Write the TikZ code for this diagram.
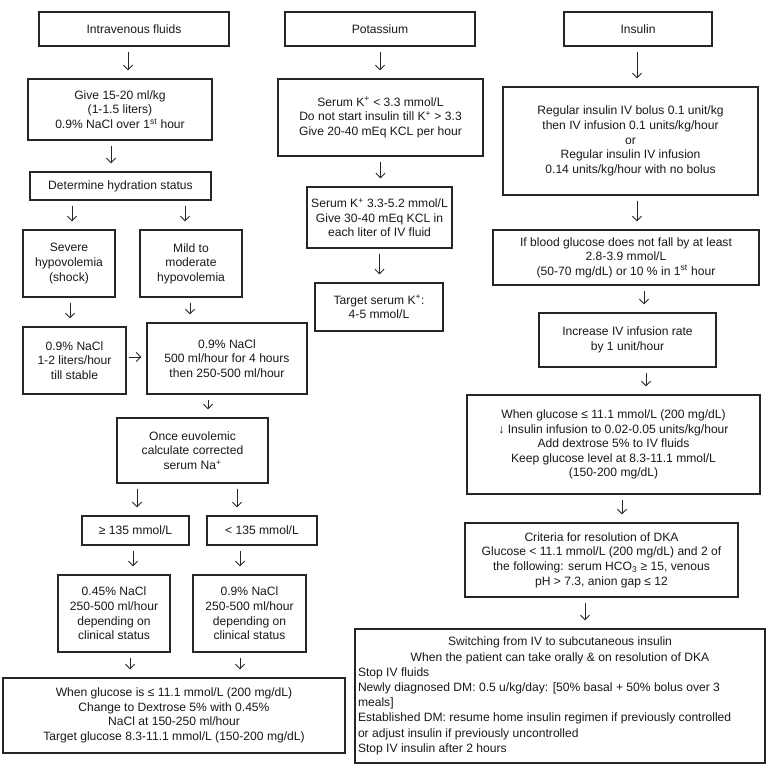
\documentclass[tikz,border=0pt]{standalone}
\usepackage{fontspec}
\setmainfont{Liberation Sans}
\usetikzlibrary{arrows.meta,calc}
\newcommand\fsz{\fontsize{12.1}{14.6}\selectfont}
\newcommand\flowbox[6]{\node[fbox,minimum width={(#4-#2)*1pt},minimum height={(#5-#3)*1pt}] (#1) at ({(#2+#4)/2},{(#3+#5)/2}) {#6};}
\tikzset{
  fbox/.style={draw=black!85, line width=1.4pt, align=center, inner sep=0pt, font=\fsz, text=black!90},
  arr/.style={-{Straight Barb[length=4.5pt,width=9pt]}, line width=0.9pt, draw=black!85, shorten <=5pt, shorten >=8pt},
  arrh/.style={-{Straight Barb[length=4.5pt,width=9pt]}, line width=0.9pt, draw=black!85, shorten <=2pt, shorten >=5pt}
}
\begin{document}
\begin{tikzpicture}[x=1pt,y=-1pt]
\useasboundingbox[fill=white] (0,0) rectangle (768,769);
% Column 1: intravenous fluids
\flowbox{iv}{39}{12}{229}{46}{Intravenous fluids}
\flowbox{give}{28}{79}{212}{140}{Give 15-20 ml/kg\\(1-1.5 liters)\\0.9\% NaCl over 1\textsuperscript{st} hour}
\flowbox{det}{30}{172}{211}{200}{Determine hydration status}
\flowbox{sev}{23}{230}{115}{297}{Severe\\hypovolemia\\(shock)}
\flowbox{mild}{140}{230}{242}{297}{Mild to\\moderate\\hypovolemia}
\flowbox{na1}{23}{327}{126}{394}{0.9\% NaCl\\1-2 liters/hour\\till stable}
\flowbox{na2}{147}{323}{307}{394}{0.9\% NaCl\\500 ml/hour for 4 hours\\then 250-500 ml/hour}
\flowbox{euv}{117}{418}{268}{483}{Once euvolemic\\calculate corrected\\serum Na\textsuperscript{+}}
\flowbox{ge}{82}{516}{189}{545}{≥ 135 mmol/L}
\flowbox{lt}{207}{516}{317}{545}{< 135 mmol/L}
\flowbox{nhalf}{58}{575}{170}{652}{0.45\% NaCl\\250-500 ml/hour\\depending on\\clinical status}
\flowbox{nfull}{193}{575}{306}{652}{0.9\% NaCl\\250-500 ml/hour\\depending on\\clinical status}
\flowbox{bot}{3}{678}{345}{753}{When glucose is ≤ 11.1 mmol/L (200 mg/dL)\\Change to Dextrose 5\% with 0.45\%\\NaCl at 150-250 ml/hour\\Target glucose 8.3-11.1 mmol/L (150-200 mg/dL)}
% Column 2: potassium
\flowbox{kzero}{285}{12}{475}{46}{Potassium}
\flowbox{kone}{278}{79}{483}{156}{Serum K\textsuperscript{+} < 3.3 mmol/L\\Do not start insulin till K\textsuperscript{+} > 3.3\\Give 20-40 mEq KCL per hour}
\flowbox{ktwo}{307}{187}{452}{248}{Serum K\textsuperscript{+} 3.3-5.2 mmol/L\\Give 30-40 mEq KCL in\\each liter of IV fluid}
\flowbox{kthree}{315}{283}{443}{331}{Target serum K\textsuperscript{+}:\\4-5 mmol/L}
% Column 3: insulin
\flowbox{ins}{564}{12}{712}{46}{Insulin}
\flowbox{reg}{503}{87}{758}{195}{Regular insulin IV bolus 0.1 unit/kg\\then IV infusion 0.1 units/kg/hour\\or\\Regular insulin IV infusion\\0.14 units/kg/hour with no bolus}
\flowbox{ifb}{493}{230}{759}{285}{If blood glucose does not fall by at least\\2.8-3.9 mmol/L\\(50-70 mg/dL) or 10 \% in 1\textsuperscript{st} hour}
\flowbox{inc}{539}{313}{716}{367}{Increase IV infusion rate\\by 1 unit/hour}
\flowbox{wg}{467}{395}{760}{494}{When glucose ≤ 11.1 mmol/L (200 mg/dL)\\↓ Insulin infusion to 0.02-0.05 units/kg/hour\\Add dextrose 5\% to IV fluids\\Keep glucose level at 8.3-11.1 mmol/L\\(150-200 mg/dL)}
\flowbox{crit}{465}{523}{738}{597}{Criteria for resolution of DKA\\Glucose < 11.1 mmol/L (200 mg/dL) and 2 of\\the following: serum HCO\textsubscript{3} ≥ 15, venous\\pH > 7.3, anion gap ≤ 12}
\flowbox{sw}{355}{629}{765}{763}{\parbox{404pt}{\fontsize{12.1}{15.2}\selectfont\centering Switching from IV to subcutaneous insulin\\When the patient can take orally \& on resolution of DKA\par\raggedright Stop IV fluids\\Newly diagnosed DM: 0.5 u/kg/day: [50\% basal + 50\% bolus over 3\\meals]\\Established DM: resume home insulin regimen if previously controlled\\or adjust insulin if previously uncontrolled\\Stop IV insulin after 2 hours\par}}
% Arrows column 1
\draw[arr] ([xshift=-6pt]iv.south) -- ([xshift=-6pt]iv.south |- give.north);
\draw[arr] ([xshift=-9pt]give.south) -- ([xshift=-9pt]give.south |- det.north);
\draw[arr] ([xshift=3pt]sev.north |- det.south) -- ([xshift=3pt]sev.north);
\draw[arr] ([xshift=-6pt]mild.north |- det.south) -- ([xshift=-6pt]mild.north);
\draw[arr] ([xshift=1pt]sev.south) -- ([xshift=1pt]sev.south |- na1.north);
\draw[arr] ([xshift=-1pt]mild.south) -- ([xshift=-1pt]mild.south |- na2.north);
\draw[arrh] ([yshift=3.5pt]na1.east) -- ([yshift=3.5pt]na1.east -| na2.west);
\draw[arr] ([xshift=15.5pt]euv.north |- na2.south) -- ([xshift=15.5pt]euv.north);
\draw[arr] ([xshift=1.5pt]ge.north |- euv.south) -- ([xshift=1.5pt]ge.north);
\draw[arr] ([xshift=-25pt]lt.north |- euv.south) -- ([xshift=-25pt]lt.north);
\draw[arr] ([xshift=-2.5pt]ge.south) -- ([xshift=-2.5pt]ge.south |- nhalf.north);
\draw[arr] ([xshift=-22pt]lt.south) -- ([xshift=-22pt]lt.south |- nfull.north);
\draw[arr] ([xshift=16pt]nhalf.south) -- ([xshift=16pt]nhalf.south |- bot.north);
\draw[arr] ([xshift=-9.5pt]nfull.south) -- ([xshift=-9.5pt]nfull.south |- bot.north);
% Arrows column 2
\draw[arr] (kzero.south) -- (kzero.south |- kone.north);
\draw[arr] (kone.south) -- (kone.south |- ktwo.north);
\draw[arr] (ktwo.south) -- (ktwo.south |- kthree.north);
% Arrows column 3
\draw[arr] ([xshift=-1pt]ins.south) -- ([xshift=-1pt]ins.south |- reg.north);
\draw[arr] ([xshift=6.5pt]reg.south) -- ([xshift=6.5pt]reg.south |- ifb.north);
\draw[arr] ([xshift=18pt]ifb.south) -- ([xshift=18pt]ifb.south |- inc.north);
\draw[arr] ([xshift=18.5pt]inc.south) -- ([xshift=18.5pt]inc.south |- wg.north);
\draw[arr] ([xshift=8.5pt]wg.south) -- ([xshift=8.5pt]wg.south |- crit.north);
\draw[arr] ([xshift=-16.5pt]crit.south) -- ([xshift=-16.5pt]crit.south |- sw.north);
\end{tikzpicture}
\end{document}
